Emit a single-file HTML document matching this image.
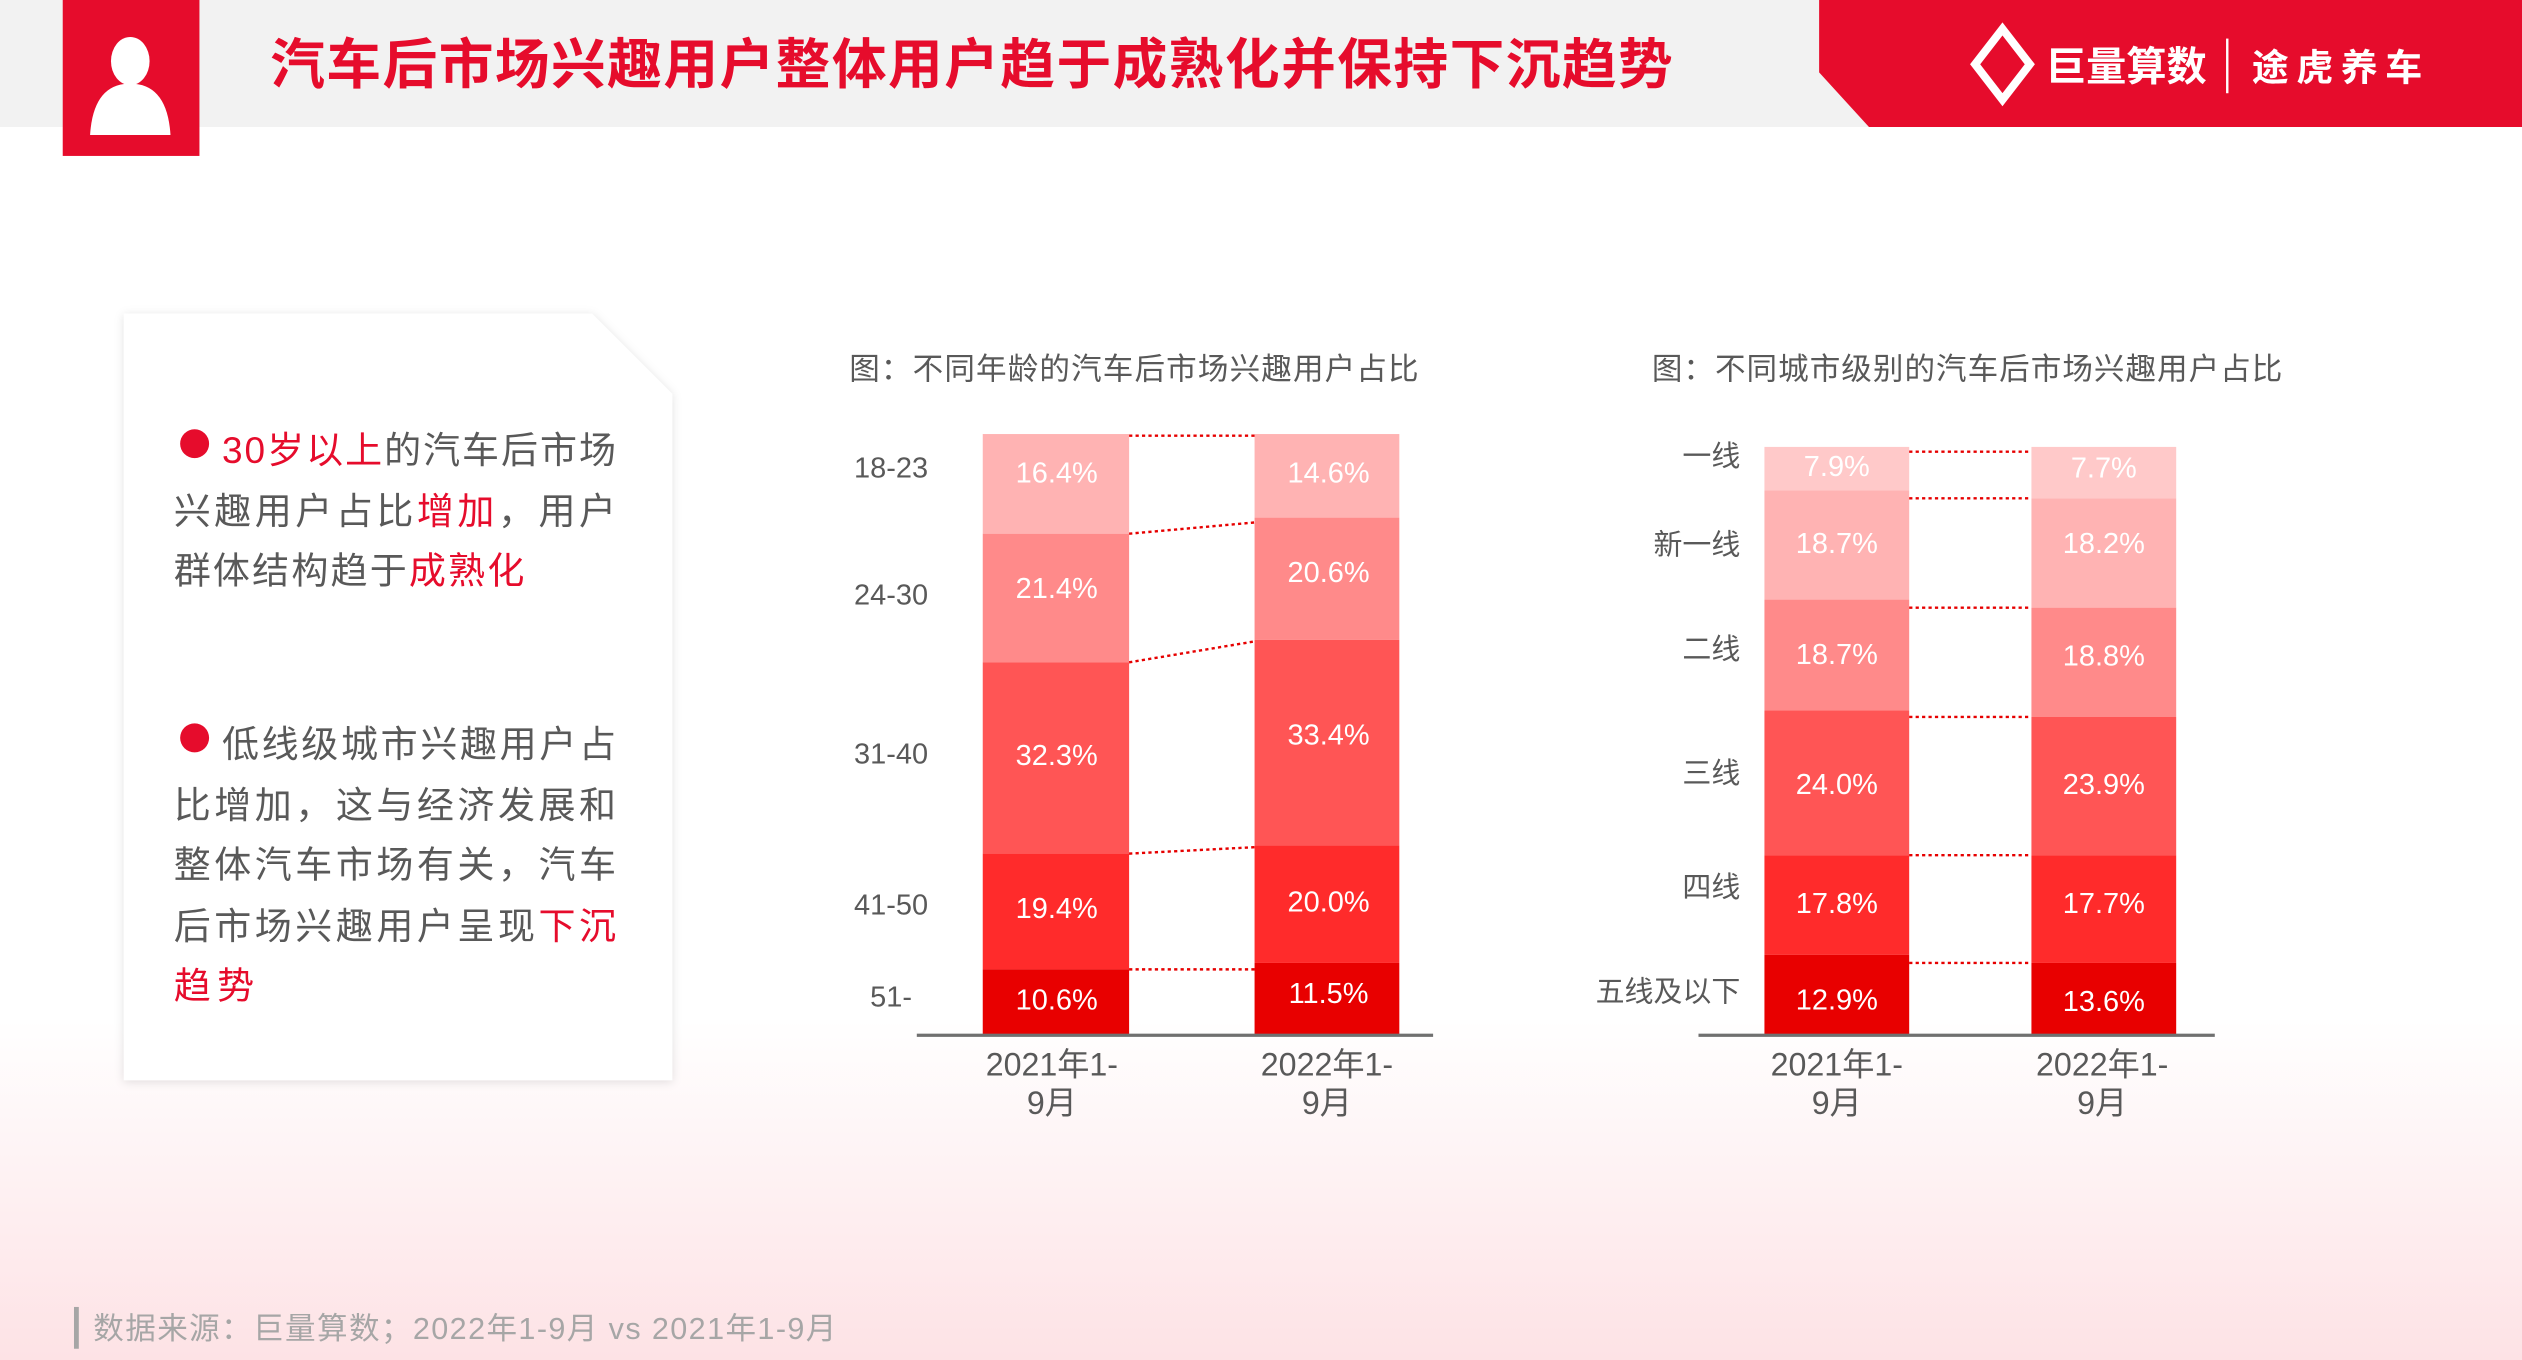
<!DOCTYPE html>
<html><head><meta charset="utf-8"><style>
html,body{margin:0;padding:0;width:2522px;height:1360px;overflow:hidden;background:#fff}
svg{display:block}
text{font-family:"Liberation Sans","Noto Sans CJK SC",sans-serif}
</style></head><body>
<svg width="2522" height="1360" viewBox="0 0 1568 846" preserveAspectRatio="none" xmlns="http://www.w3.org/2000/svg">
<defs>
<linearGradient id="bg" x1="0" y1="0" x2="0" y2="1">
<stop offset="0" stop-color="#fff"/><stop offset="0.75" stop-color="#fff"/><stop offset="1" stop-color="#fde2e5"/>
</linearGradient>
<filter id="sh" x="-10%" y="-10%" width="120%" height="120%"><feDropShadow dx="0" dy="1" stdDeviation="3" flood-color="#000" flood-opacity="0.12"/></filter>
</defs>
<rect width="1568" height="846" fill="url(#bg)"/>
<rect width="1568" height="79" fill="#f2f2f2"/>
<polygon points="1131,0 1568,0 1568,79 1162,79 1131,45" fill="#e60c2c"/>
<rect x="39" y="0" width="85" height="97" fill="#e60c2c"/>
<ellipse cx="81" cy="38" rx="12" ry="15" fill="#fff"/>
<path d="M56,84 Q58,52 81,52 Q104,52 106,84 Z" fill="#fff"/>
<text x="168" y="52" font-size="34" font-weight="bold" fill="#e60c2c" textLength="872" lengthAdjust="spacing">汽车后市场兴趣用户整体用户趋于成熟化并保持下沉趋势</text>
<polygon points="1245,18 1262,40 1245,62 1228,40" fill="none" stroke="#fff" stroke-width="5"/>
<text x="1272" y="50" font-size="25" font-weight="bold" fill="#fff" textLength="100">巨量算数</text>
<rect x="1384" y="24" width="1.5" height="34" fill="#fff"/>
<text x="1400" y="50" font-size="23" font-weight="bold" fill="#fff" textLength="106">途虎养车</text>

<g filter="url(#sh)"><polygon points="77,195 368,195 418,245 418,672 77,672" fill="#fff"/></g>
<g font-size="23" fill="#595959" lengthAdjust="spacing">
<circle cx="121" cy="276" r="9" fill="#e60c2c"/>
<text x="138" y="288" textLength="245"><tspan fill="#e60c2c">30岁以上</tspan>的汽车后市场</text>
<text x="108" y="326" textLength="275">兴趣用户占比<tspan fill="#e60c2c">增加</tspan>，用户</text>
<text x="108" y="363" textLength="218">群体结构趋于<tspan fill="#e60c2c">成熟化</tspan></text>
<circle cx="121" cy="459" r="9" fill="#e60c2c"/>
<text x="138" y="471" textLength="245">低线级城市兴趣用户占</text>
<text x="108" y="509" textLength="275">比增加，这与经济发展和</text>
<text x="108" y="546" textLength="275">整体汽车市场有关，汽车</text>
<text x="108" y="584" textLength="275">后市场兴趣用户呈现<tspan fill="#e60c2c">下沉</tspan></text>
<text x="108" y="621" fill="#e60c2c" textLength="50">趋势</text>
</g>

<text x="528" y="236" font-size="19" fill="#595959" textLength="354">图：不同年龄的汽车后市场兴趣用户占比</text>
<text x="1027" y="236" font-size="19" fill="#595959" textLength="392">图：不同城市级别的汽车后市场兴趣用户占比</text>

<!-- left chart -->
<g>
<rect x="611" y="270" width="91" height="62" fill="#ffb3b3"/>
<rect x="611" y="332" width="91" height="80" fill="#ff8a8a"/>
<rect x="611" y="412" width="91" height="119" fill="#ff5555"/>
<rect x="611" y="531" width="91" height="72" fill="#ff2b2b"/>
<rect x="611" y="603" width="91" height="41" fill="#e80000"/>
<rect x="780" y="270" width="90" height="52" fill="#ffb3b3"/>
<rect x="780" y="322" width="90" height="76" fill="#ff8a8a"/>
<rect x="780" y="398" width="90" height="128" fill="#ff5555"/>
<rect x="780" y="526" width="90" height="73" fill="#ff2b2b"/>
<rect x="780" y="599" width="90" height="45" fill="#e80000"/>
<g stroke="#e60000" stroke-width="1.5" stroke-dasharray="2,2">
<line x1="702" y1="271" x2="780" y2="271"/>
<line x1="702" y1="332" x2="780" y2="325"/>
<line x1="702" y1="412" x2="780" y2="399"/>
<line x1="702" y1="531" x2="780" y2="527"/>
<line x1="702" y1="603" x2="780" y2="603"/>
</g>
<rect x="570" y="643" width="321" height="2" fill="#707070"/>
<g font-size="18" fill="#fff" text-anchor="middle">
<text x="657" y="300">16.4%</text><text x="657" y="372">21.4%</text><text x="657" y="476">32.3%</text><text x="657" y="571">19.4%</text><text x="657" y="628">10.6%</text>
<text x="826" y="300">14.6%</text><text x="826" y="362">20.6%</text><text x="826" y="463">33.4%</text><text x="826" y="567">20.0%</text><text x="826" y="624">11.5%</text>
</g>
<g font-size="18" fill="#595959" text-anchor="end">
<text x="577" y="297">18-23</text><text x="577" y="376">24-30</text><text x="577" y="475">31-40</text><text x="577" y="569">41-50</text><text x="567" y="626">51-</text>
</g>
<g font-size="20" fill="#595959" text-anchor="middle">
<text x="654" y="669">2021年1-</text><text x="654" y="693">9月</text>
<text x="825" y="669">2022年1-</text><text x="825" y="693">9月</text>
</g>
</g>

<!-- right chart -->
<g>
<rect x="1097" y="278" width="90" height="27" fill="#ffc9c9"/>
<rect x="1097" y="305" width="90" height="68" fill="#ffb3b3"/>
<rect x="1097" y="373" width="90" height="69" fill="#ff8a8a"/>
<rect x="1097" y="442" width="90" height="90" fill="#ff5555"/>
<rect x="1097" y="532" width="90" height="62" fill="#ff2b2b"/>
<rect x="1097" y="594" width="90" height="50" fill="#e80000"/>
<rect x="1263" y="278" width="90" height="32" fill="#ffc9c9"/>
<rect x="1263" y="310" width="90" height="68" fill="#ffb3b3"/>
<rect x="1263" y="378" width="90" height="68" fill="#ff8a8a"/>
<rect x="1263" y="446" width="90" height="86" fill="#ff5555"/>
<rect x="1263" y="532" width="90" height="67" fill="#ff2b2b"/>
<rect x="1263" y="599" width="90" height="45" fill="#e80000"/>
<g stroke="#e60000" stroke-width="1.5" stroke-dasharray="2,2">
<line x1="1187" y1="281" x2="1263" y2="281"/>
<line x1="1187" y1="310" x2="1263" y2="310"/>
<line x1="1187" y1="378" x2="1263" y2="378"/>
<line x1="1187" y1="446" x2="1263" y2="446"/>
<line x1="1187" y1="532" x2="1263" y2="532"/>
<line x1="1187" y1="599" x2="1263" y2="599"/>
</g>
<rect x="1056" y="643" width="321" height="2" fill="#707070"/>
<g font-size="18" fill="#fff" text-anchor="middle">
<text x="1142" y="296">7.9%</text><text x="1142" y="344">18.7%</text><text x="1142" y="413">18.7%</text><text x="1142" y="494">24.0%</text><text x="1142" y="568">17.8%</text><text x="1142" y="628">12.9%</text>
<text x="1308" y="297">7.7%</text><text x="1308" y="344">18.2%</text><text x="1308" y="414">18.8%</text><text x="1308" y="494">23.9%</text><text x="1308" y="568">17.7%</text><text x="1308" y="629">13.6%</text>
</g>
<g font-size="18" fill="#595959" text-anchor="end">
<text x="1082" y="290">一线</text><text x="1082" y="345">新一线</text><text x="1082" y="410">二线</text><text x="1082" y="487">三线</text><text x="1082" y="558">四线</text><text x="1082" y="623">五线及以下</text>
</g>
<g font-size="20" fill="#595959" text-anchor="middle">
<text x="1142" y="669">2021年1-</text><text x="1142" y="693">9月</text>
<text x="1307" y="669">2022年1-</text><text x="1307" y="693">9月</text>
</g>
</g>

<rect x="46" y="813" width="3" height="26" fill="#a6a6a6"/>
<text x="58" y="833" font-size="19" fill="#a6a6a6" textLength="462">数据来源：巨量算数；2022年1-9月 vs 2021年1-9月</text>
</svg>
</body></html>
